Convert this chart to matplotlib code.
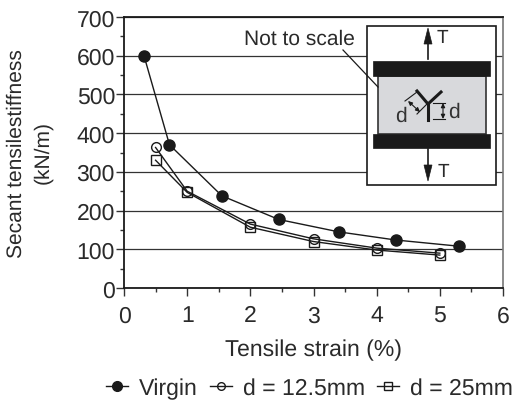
import matplotlib
matplotlib.use("Agg")
import matplotlib.pyplot as plt
from matplotlib.patches import Rectangle, Polygon
from matplotlib.lines import Line2D

plt.rcParams['font.family'] = ['Liberation Sans', 'DejaVu Sans']
plt.rcParams['text.hinting'] = 'no_hinting'
plt.rcParams['text.hinting_factor'] = 1

virgin_x = [0.32, 0.72, 1.55, 2.45, 3.4, 4.3, 5.3]
virgin_y = [598, 370, 238, 177, 145, 124, 108]
d125_x = [0.5, 1, 2, 3, 4, 5]
d125_y = [363, 250, 165, 127, 103, 90]
d25_x = [0.5, 1, 2, 3, 4, 5]
d25_y = [330, 247, 157, 120, 98, 85]

W, H = 515, 402
DARK = '#1a1a1a'
TXT = '#2a2a2a'
FS = 16.4

fig = plt.figure(figsize=(W / 100, H / 100), dpi=100)
ax = fig.add_axes([124 / W, 1 - 289 / H, (503 - 124) / W, (289 - 18) / H])

ax.plot(virgin_x, virgin_y, '-o', color=DARK, lw=1, ms=8, mfc=DARK, mec=DARK, clip_on=False, zorder=5)
ax.plot(d125_x, d125_y, '-o', color=DARK, lw=1, ms=7, mfc='none', mec=DARK, mew=1, zorder=4)
ax.plot(d25_x, d25_y, '-s', color=DARK, lw=1, ms=7, mfc='none', mec=DARK, mew=1, zorder=4)

ax.set_xlim(0, 6)
ax.set_ylim(0, 700)
ax.set_xticks(range(0, 7))
ax.set_xticks([i + 0.5 for i in range(6)], minor=True)
ax.set_yticks(range(0, 701, 100))
ax.set_yticks(range(50, 700, 100), minor=True)
ax.tick_params(which='major', length=6, width=1, labelsize=FS, color='#333333', labelcolor=TXT)
ax.tick_params(axis='x', which='major', pad=6)
ax.tick_params(axis='y', which='major', pad=0.5)
ax.tick_params(which='minor', length=3, width=1, color='#333333')
ax.yaxis.grid(True, which='major', color='#333333', lw=0.9)
ax.set_axisbelow(True)
for s in ['top', 'bottom', 'left']:
    ax.spines[s].set_linewidth(1.3)
    ax.spines[s].set_color(DARK)
ax.spines['right'].set_linewidth(1.2)
ax.spines['right'].set_color('#777777')

ax.set_xlabel('Tensile strain (%)', fontsize=FS, color=TXT, labelpad=9)

handles = [
    Line2D([], [], color=DARK, lw=1, marker='o', ms=7, mfc=DARK, mec=DARK),
    Line2D([], [], color=DARK, lw=1, marker='o', ms=5.5, mfc='none', mec=DARK),
    Line2D([], [], color=DARK, lw=1, marker='s', ms=5.5, mfc='none', mec=DARK),
]
fig.legend(handles, ['Virgin', 'd = 12.5mm', 'd = 25mm'], loc='center', ncol=3, frameon=False,
           bbox_to_anchor=(309.5 / W, 1 - 389 / H), fontsize=FS, labelcolor=TXT,
           handlelength=0.95, handletextpad=0.48, columnspacing=0.55, borderpad=0)

# overlay in pixel coordinates for the schematic
ov = fig.add_axes([0, 0, 1, 1], facecolor='none')
ov.set_xlim(0, W)
ov.set_ylim(H, 0)
ov.axis('off')

ov.text(16, 154, 'Secant tensilestiffness', rotation=90, ha='center', va='center', fontsize=15.4, color=TXT)
ov.text(43, 153, '(kN/m)', rotation=90, ha='center', va='center', fontsize=15.4, color=TXT)

ov.add_patch(Rectangle((367, 27), 129, 159, fc='white', ec=DARK, lw=1.2))
ov.add_patch(Rectangle((378, 77), 108, 58, fc='#d8d9dc', ec='#333333', lw=1.2))
ov.add_patch(Rectangle((373, 62), 117, 15, fc=DARK, ec=DARK, lw=0.5))
ov.add_patch(Rectangle((373, 135), 117, 14, fc=DARK, ec=DARK, lw=0.5))

ov.plot([428, 428], [45, 60], color=DARK, lw=1.2)
ov.add_patch(Polygon([(428, 29), (424, 45), (432, 45)], fc=DARK, ec=DARK, lw=0.5))
ov.plot([428, 428], [150, 167], color=DARK, lw=1.2)
ov.add_patch(Polygon([(428, 182), (424, 166), (432, 166)], fc=DARK, ec=DARK, lw=0.5))
ov.text(442, 38, 'T', ha='center', va='center', fontsize=14, color=TXT)
ov.text(443, 172, 'T', ha='center', va='center', fontsize=14, color=TXT)

ov.text(299.5, 39, 'Not to scale', ha='center', va='center', fontsize=15.4, color=TXT)
ov.plot([343, 378], [51, 88], color=DARK, lw=0.9)

# Y shaped crack and its dimensions
ov.plot([428, 428], [105, 121], color=DARK, lw=2.2)
ov.plot([417, 428, 441], [92, 105, 93], color=DARK, lw=2.2)
ov.plot([433, 445], [104, 104], color=DARK, lw=0.8)
ov.plot([433, 445], [120, 120], color=DARK, lw=0.8)
ov.annotate('', xy=(443, 104), xytext=(443, 120),
            arrowprops=dict(arrowstyle='<|-|>,head_length=0.25,head_width=0.12', color=DARK, lw=0.8, shrinkA=0, shrinkB=0))
ov.plot([405, 417], [102, 93], color=DARK, lw=0.8)
ov.plot([417, 427], [115, 105], color=DARK, lw=0.8)
ov.annotate('', xy=(408, 102), xytext=(420, 113),
            arrowprops=dict(arrowstyle='<|-|>,head_length=0.25,head_width=0.12', color=DARK, lw=0.8, shrinkA=0, shrinkB=0))
ov.text(454, 112, 'd', ha='center', va='center', fontsize=15, color='#333333')
ov.text(401, 116, 'd', ha='center', va='center', fontsize=15, color='#333333')

fig.savefig('out.png', dpi=100)
